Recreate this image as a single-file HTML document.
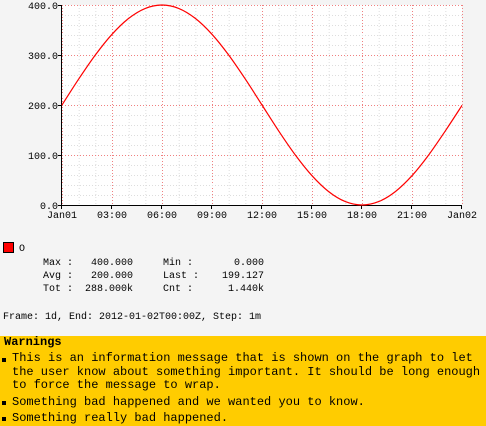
<!DOCTYPE html>
<html><head><meta charset="utf-8"><style>
body{margin:0;width:486px;height:426px;background:#f4f4f4;overflow:hidden;font-family:"Liberation Mono","DejaVu Sans Mono",monospace;}
#warn{position:absolute;left:0;top:336px;width:486px;height:90px;background:#ffcc00;font-size:12px;line-height:13.5px;color:#000;}
#warn .h{position:absolute;left:4px;top:0px;font-weight:bold;}
#warn .i{position:absolute;left:12px;white-space:pre;}
#warn .b{position:absolute;left:2px;width:4px;height:4px;background:#000;}
</style></head><body>
<svg id="chart" width="486" height="336" style="position:absolute;left:0;top:0" font-family="Liberation Mono, DejaVu Sans Mono, monospace" font-size="10"></svg>
<div id="warn">
<div class="h">Warnings</div>
<div class="b" style="top:22px"></div>
<div class="i" style="top:16px">This is an information message that is shown on the graph to let
the user know about something important. It should be long enough
to force the message to wrap.</div>
<div class="b" style="top:65px"></div>
<div class="i" style="top:60px">Something bad happened and we wanted you to know.</div>
<div class="b" style="top:81px"></div>
<div class="i" style="top:76px">Something really bad happened.</div>
</div>
<script>
const hours=[0,1,2,3,4,5,6,7,8,9,10,11,12,13,14,15,16,17,18,19,20,21,22,23,24];
const values=[200,251.8,300,341.4,373.2,393.2,400,393.2,373.2,341.4,300,251.8,200,148.2,100,58.6,26.8,6.8,0,6.8,26.8,58.6,100,148.2,199.1];
const yTicks=[0,100,200,300,400];
const yTickLabels=["0.0","100.0","200.0","300.0","400.0"];
const xTicks=[0,3,6,9,12,15,18,21,24];
const xTickLabels=["Jan01","03:00","06:00","09:00","12:00","15:00","18:00","21:00","Jan02"];
const stats=[["Max :","400.000","Min  :","0.000"],["Avg :","200.000","Last :","199.127"],["Tot :","288.000k","Cnt  :","1.440k"]];
const L=62,R=462,T=5,B=205;
const xs=h=>L+(R-L)*h/24, ys=v=>B-(B-T)*v/400;
const svg=document.getElementById('chart'),NS='http://www.w3.org/2000/svg';
function mk(t,a,p){const e=document.createElementNS(NS,t);for(const k in a)e.setAttribute(k,a[k]);(p||svg).appendChild(e);return e;}
let e=mk('rect',{x:L,y:T,width:R-L,height:B-T,fill:'#fff'});


for(let h=0;h<=24;h++){e=mk('line',{x1:xs(h)+.5,x2:xs(h)+.5,y1:T,y2:B,stroke:h%3?'#ddd':'#f08080','stroke-dasharray':'1,2','stroke-width':1});

}
for(let v=0;v<=400;v+=20){e=mk('line',{x1:L,x2:R,y1:ys(v)+.5,y2:ys(v)+.5,stroke:v%100?'#ddd':'#f08080','stroke-dasharray':'1,2','stroke-width':1});

}
e=mk('line',{x1:L-.5,x2:L-.5,y1:T,y2:B+4,stroke:'#000'});


e=mk('line',{x1:L-4,x2:R,y1:B+.5,y2:B+.5,stroke:'#000'});


yTicks.forEach((v,i)=>{mk('line',{x1:L-4,x2:L,y1:ys(v)+.5,y2:ys(v)+.5,stroke:'#000'});
e=mk('text',{x:L-4,y:ys(v)+4,'text-anchor':'end'});e.textContent=yTickLabels[i];

});
xTicks.forEach((h,i)=>{mk('line',{x1:xs(h)-.5,x2:xs(h)-.5,y1:B,y2:B+4,stroke:'#000'});
e=mk('text',{x:xs(h),y:B+13,'text-anchor':'middle'});e.textContent=xTickLabels[i];

});
const P=hours.map((h,i)=>[xs(h),ys(values[i])]);
let d='M'+P[0];
for(let i=0;i<P.length-1;i++){const p0=P[i-1]||P[i],p1=P[i],p2=P[i+1],p3=P[i+2]||P[i+1];
d+=` C${p1[0]+(p2[0]-p0[0])/6},${p1[1]+(p2[1]-p0[1])/6} ${p2[0]-(p3[0]-p1[0])/6},${p2[1]-(p3[1]-p1[1])/6} ${p2[0]},${p2[1]}`;}
e=mk('path',{d:d,fill:'none',stroke:'#f00','stroke-width':1.2});


e=mk('rect',{x:3.5,y:242.5,width:10,height:10,fill:'#f00',stroke:'#000'});


e=mk('text',{x:19,y:251});e.textContent='O';


stats.forEach((r,i)=>{const y=265+i*13;
[[43,'start'],[133,'end'],[163,'start'],[264,'end']].forEach((c,j)=>{
e=mk('text',{x:c[0],y:y,'text-anchor':c[1],'xml:space':'preserve'});e.textContent=r[j];

});});
e=mk('text',{x:3,y:319});e.textContent='Frame: 1d, End: 2012-01-02T00:00Z, Step: 1m';


</script>
</body></html>
